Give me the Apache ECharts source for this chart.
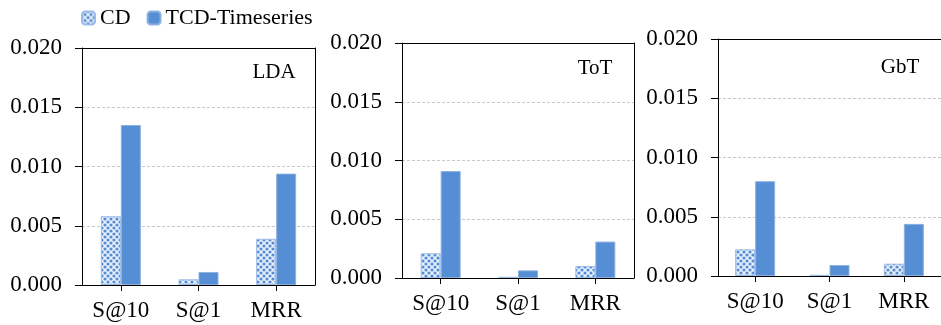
<!DOCTYPE html>
<html>
<head>
<meta charset="utf-8">
<script src="https://cdn.jsdelivr.net/npm/echarts@6/dist/echarts.min.js"></script>
<style>
html,body{margin:0;padding:0;background:#fff;}
#c{width:941px;height:325px;}
</style>
</head>
<body>
<div id="c"></div>
<script>
var categories = ['S@10', 'S@1', 'MRR'];
var panelTitles = ['LDA', 'ToT', 'GbT'];
var seriesNames = ['CD', 'TCD-Timeseries'];
var cdLDA = [0.0058, 0.00048, 0.0039];
var tcdLDA = [0.0135, 0.0011, 0.0094];
var cdToT = [0.0021, 0.0001, 0.00102];
var tcdToT = [0.0091, 0.00065, 0.0031];
var cdGbT = [0.00225, 0.0001, 0.00104];
var tcdGbT = [0.0080, 0.00093, 0.0044];
var yTicks = [0, 0.005, 0.010, 0.015, 0.020];

var cdData = [cdLDA, cdToT, cdGbT];
var tcdData = [tcdLDA, tcdToT, tcdGbT];

var BLUE = '#558ed5';
var tile = document.createElement('canvas');
tile.width = 6; tile.height = 6;
var tc = tile.getContext('2d');
tc.fillStyle = '#e8f0fb'; tc.fillRect(0, 0, 6, 6);
tc.fillStyle = BLUE;
[[0,0],[6,0],[0,6],[6,6],[3,3]].forEach(function(p){ tc.beginPath(); tc.arc(p[0], p[1], 1.6, 0, Math.PI*2); tc.fill(); });

var FONT = 'Liberation Serif';
var grids = [
  {left: 82, top: 48, width: 233, height: 237},
  {left: 402, top: 43, width: 232, height: 235},
  {left: 718, top: 39, width: 231, height: 237}
];
var titlePos = [[274, 72], [595, 68], [900, 67]];

var xAxes = [], yAxes = [];
grids.forEach(function(g, i){
  xAxes.push({
    type: 'category', gridIndex: i, data: categories,
    axisLine: {onZero: false, lineStyle: {color: '#000', width: 1}},
    axisTick: {show: true, alignWithLabel: true, length: 6, lineStyle: {color: '#000'}},
    axisLabel: {fontFamily: FONT, fontSize: 23, color: '#000', margin: 14}
  });
  xAxes.push({
    type: 'category', gridIndex: i, data: categories, position: 'top',
    axisLine: {show: true, onZero: false, lineStyle: {color: '#000', width: 1}},
    axisTick: {show: false}, axisLabel: {show: false}, splitLine: {show: false}
  });
  yAxes.push({
    type: 'value', gridIndex: i, min: yTicks[0], max: yTicks[yTicks.length-1], interval: yTicks[1] - yTicks[0],
    axisLine: {show: true, onZero: false, lineStyle: {color: '#000', width: 1}},
    axisTick: {show: true, length: 7, lineStyle: {color: '#000'}},
    axisLabel: {fontFamily: FONT, fontSize: 23, color: '#000', margin: 20, formatter: function(v){ return v.toFixed(3); }},
    splitLine: {show: true, lineStyle: {color: '#c8c8c8', type: [3, 2], width: 1}}
  });
  yAxes.push({
    type: 'value', gridIndex: i, position: 'right', min: yTicks[0], max: yTicks[yTicks.length-1],
    axisLine: {show: true, onZero: false, lineStyle: {color: '#000', width: 1}},
    axisTick: {show: false}, axisLabel: {show: false}, splitLine: {show: false}
  });
});

var option = {
  animation: false,
  backgroundColor: '#fff',
  textStyle: {fontFamily: FONT},
  legend: {
    data: seriesNames,
    left: 76, top: 2,
    itemWidth: 13, itemHeight: 13, itemGap: 16,
    textStyle: {fontFamily: FONT, fontSize: 22, color: '#000'}
  },
  grid: grids,
  xAxis: xAxes,
  yAxis: yAxes,
  graphic: panelTitles.map(function(t, i){ return {
    type: 'text', x: titlePos[i][0], y: titlePos[i][1],
    style: {text: t, fontFamily: FONT, fontSize: 21, fill: '#000', textAlign: 'center', textVerticalAlign: 'middle'}
  }; }),
  series: []
};
for (var i = 0; i < 3; i++) {
  option.series.push({
    name: seriesNames[0], type: 'bar', xAxisIndex: 2*i, yAxisIndex: 2*i, data: cdData[i],
    barWidth: 20, barGap: '0%',
    itemStyle: {color: {image: tile, repeat: 'repeat'}, borderColor: '#9cbbe6', borderWidth: 1}
  });
  option.series.push({
    name: seriesNames[1], type: 'bar', xAxisIndex: 2*i, yAxisIndex: 2*i, data: tcdData[i],
    barWidth: 20, barGap: '0%',
    itemStyle: {color: BLUE, borderColor: '#8db0e0', borderWidth: 1}
  });
}
var chart = echarts.init(document.getElementById('c'), null, {renderer: 'canvas'});
chart.setOption(option);
</script>
</body>
</html>
